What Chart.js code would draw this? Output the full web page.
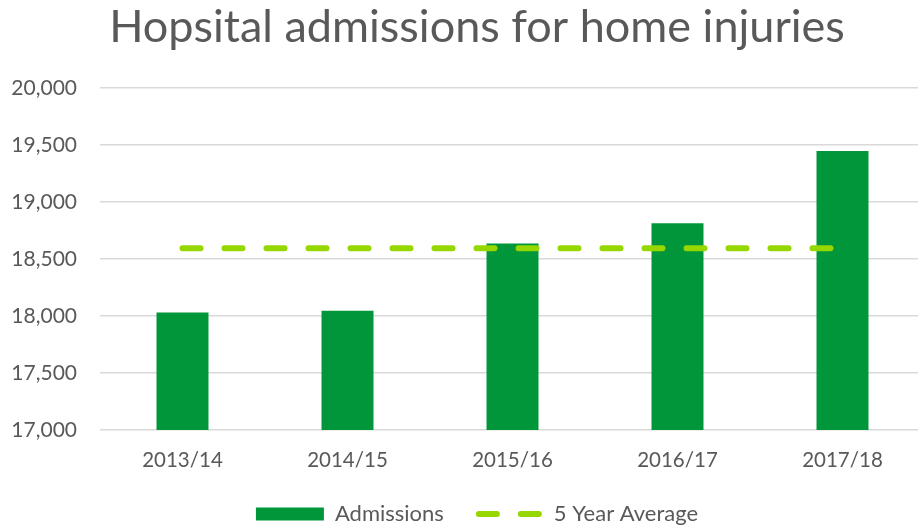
<!DOCTYPE html>
<html>
<head>
<meta charset="utf-8">
<script src="https://cdn.jsdelivr.net/npm/chart.js@4/dist/chart.umd.min.js"></script>
<style>
  html, body { margin: 0; padding: 0; background: #ffffff; overflow: hidden; }
  #wrap { width: 925px; height: 535px; position: relative; }
</style>
</head>
<body>
<div id="wrap"><canvas id="c"></canvas></div>
<script>
const titleText = "Hopsital admissions for home injuries";
const categories = ["2013/14", "2014/15", "2015/16", "2016/17", "2017/18"];
const admissions = [18030, 18047, 18636, 18813, 19447];
const fiveYearAverage = [18595, 18595, 18595, 18595, 18595];
const yTicks = [17000, 17500, 18000, 18500, 19000, 19500, 20000];

const FONT = "Lato, 'Liberation Sans', sans-serif";
const TEXT = "#595959";
const BAR = "#009639";
const LINE = "#97D700";
const GRID = "#D9D9D9";

Chart.defaults.font.family = FONT;
Chart.defaults.color = TEXT;

// shift title and legend boxes so they are centred like the reference
const shiftBoxes = {
  id: "shiftBoxes",
  afterLayout(chart) {
    if (chart.titleBlock) chart.titleBlock.left += 29;
    if (chart.legend) chart.legend.left += 29;
  }
};

new Chart(document.getElementById("c"), {
  plugins: [shiftBoxes],
  data: {
    labels: categories,
    datasets: [
      {
        type: "line",
        label: "5 Year Average",
        data: fiveYearAverage,
        borderColor: LINE,
        backgroundColor: LINE,
        borderWidth: 6,
        borderDash: [18, 24],
        borderCapStyle: "round",
        pointRadius: 0,
        pointHoverRadius: 0,
        fill: false,
        order: 0
      },
      {
        type: "bar",
        label: "Admissions",
        data: admissions,
        backgroundColor: BAR,
        borderWidth: 0,
        categoryPercentage: 1,
        barPercentage: 0.315,
        order: 1
      }
    ]
  },
  options: {
    responsive: true,
    maintainAspectRatio: false,
    animation: false,
    layout: { padding: { left: 0, right: 0, top: 0, bottom: 0 } },
    plugins: {
      title: {
        display: true,
        text: titleText,
        color: TEXT,
        font: { family: FONT, size: 45, weight: "normal", lineHeight: 1.2 },
        padding: { top: 0, bottom: 34 }
      },
      legend: {
        position: "bottom",
        reverse: true,
        labels: {
          color: TEXT,
          font: { family: FONT, size: 22 },
          usePointStyle: true,
          pointStyleWidth: 68,
          boxHeight: 13,
          padding: 31,
          generateLabels(chart) {
            const items = Chart.defaults.plugins.legend.labels.generateLabels(chart);
            items.forEach(it => {
              if (it.text === "Admissions") {
                it.pointStyle = "rect";
                it.lineWidth = 0;
                it.fillStyle = BAR;
              } else {
                it.pointStyle = "line";
                it.lineWidth = 6;
                it.strokeStyle = LINE;
                it.lineDash = [18, 24];
                it.lineDashOffset = 38;
                it.lineCap = "round";
              }
            });
            return items;
          }
        }
      },
      tooltip: { enabled: false }
    },
    scales: {
      x: {
        afterFit(axis) { axis.height = 42; },
        grid: { display: false, drawTicks: false },
        border: { display: false },
        ticks: { color: TEXT, font: { family: FONT, size: 20.5 }, padding: 18 }
      },
      y: {
        min: 17000,
        max: 20000,
        afterBuildTicks(axis) { axis.ticks = yTicks.map(v => ({ value: v })); },
        afterFit(axis) { axis.width = 100; },
        grid: { color: GRID, lineWidth: 1.5, drawTicks: false },
        border: { display: false },
        ticks: {
          color: TEXT,
          font: { family: FONT, size: 21 },
          padding: 23,
          callback: v => Number(v).toLocaleString("en-US")
        }
      }
    }
  }
});
</script>
</body>
</html>
